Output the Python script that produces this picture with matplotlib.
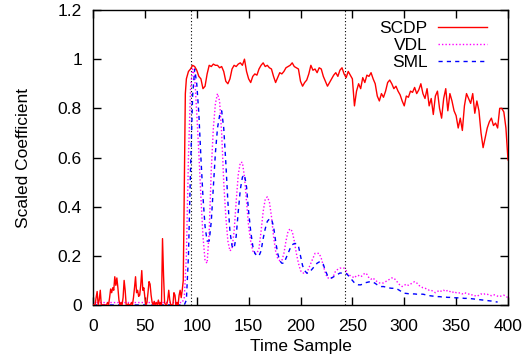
import numpy as np
import matplotlib
matplotlib.use("Agg")
import matplotlib.pyplot as plt

plt.rcParams['font.family'] = ['Liberation Sans', 'DejaVu Sans']

# ---------------- data ----------------
x_ticks = [0, 50, 100, 150, 200, 250, 300, 350, 400]
y_ticks = [0, 0.2, 0.4, 0.6, 0.8, 1, 1.2]
y_tick_labels = ["0", "0.2", "0.4", "0.6", "0.8", "1", "1.2"]
vlines_x = [94, 243]
series_labels = ["SCDP", "VDL", "SML"]

# SCDP: samples 0..89 (step 1)
scdp_early = [0.0, 0.0, 0.0, 0.03, 0.055, 0.0, 0.02, 0.06, 0.0, 0.0,
              0.0, 0.0, 0.0, 0.0, 0.01, 0.0, 0.03, 0.065, 0.05, 0.07,
              0.06, 0.115, 0.08, 0.11, 0.07, 0.02, 0.0, 0.01, 0.0, 0.03,
              0.1, 0.06, 0.0, 0.0, 0.005, 0.0, 0.0, 0.01, 0.0, 0.03,
              0.07, 0.115, 0.05, 0.06, 0.035, 0.04, 0.08, 0.14, 0.06, 0.07,
              0.03, 0.0, 0.01, 0.05, 0.095, 0.085, 0.04, 0.01, 0.0, 0.015,
              0.0, 0.01, 0.0, 0.02, 0.0, 0.01, 0.0, 0.27, 0.12, 0.01,
              0.0, 0.0, 0.02, 0.06, 0.02, 0.0, 0.0, 0.0, 0.05, 0.04,
              0.0, 0.01, 0.0, 0.04, 0.06, 0.03, 0.06, 0.1, 0.5, 0.86]
# SCDP: samples 90..400 (step 2)
scdp_late = [0.92, 0.95, 0.96, 0.975, 0.97, 0.955, 0.93, 0.92, 0.88, 0.89,
             0.94, 0.975, 0.97, 0.98, 0.975, 0.975, 0.965, 0.97, 0.95, 0.91,
             0.9, 0.92, 0.96, 0.975, 0.97, 0.98, 0.985, 0.975, 1.0, 0.95,
             0.92, 0.905, 0.93, 0.94, 0.935, 0.96, 0.975, 0.985, 0.97, 0.975,
             0.965, 0.96, 0.93, 0.905, 0.925, 0.945, 0.94, 0.95, 0.965, 0.97,
             0.975, 0.985, 0.97, 0.965, 0.96, 0.91, 0.89, 0.905, 0.915, 0.94,
             0.975, 0.955, 0.96, 0.945, 0.965, 0.96, 0.93, 0.91, 0.89, 0.905,
             0.92, 0.935, 0.945, 0.93, 0.955, 0.965, 0.94, 0.925, 0.95, 0.935,
             0.92, 0.81, 0.87, 0.9, 0.88, 0.925, 0.905, 0.935, 0.93, 0.945,
             0.92, 0.9, 0.85, 0.83, 0.86, 0.845, 0.87, 0.905, 0.915, 0.9,
             0.88, 0.89, 0.87, 0.855, 0.83, 0.81, 0.85, 0.845, 0.87, 0.865,
             0.885, 0.86, 0.875, 0.9, 0.86, 0.84, 0.88, 0.81, 0.84, 0.775,
             0.85, 0.87, 0.8, 0.76, 0.84, 0.88, 0.79, 0.86, 0.83, 0.79,
             0.77, 0.72, 0.76, 0.71, 0.81, 0.86, 0.84, 0.82, 0.86, 0.78,
             0.83, 0.79, 0.7, 0.64, 0.68, 0.72, 0.745, 0.76, 0.73, 0.74,
             0.72, 0.8, 0.8, 0.785, 0.72, 0.59]

# VDL and SML: samples 0..400 (step 2)
vdl = [0.01] * 44 + [
    0.03, 0.2, 0.6, 0.88, 0.96, 0.93, 0.78, 0.62, 0.44, 0.28,
    0.18, 0.17, 0.3, 0.55, 0.72, 0.82, 0.86, 0.83, 0.7, 0.5,
    0.36, 0.26, 0.22, 0.23, 0.3, 0.42, 0.53, 0.58, 0.58, 0.52,
    0.42, 0.32, 0.26, 0.22, 0.21, 0.21, 0.23, 0.3, 0.38, 0.43,
    0.44, 0.42, 0.36, 0.28, 0.22, 0.19, 0.18, 0.18, 0.21, 0.26,
    0.3, 0.31, 0.3, 0.26, 0.21, 0.17, 0.14, 0.13, 0.13, 0.13,
    0.15, 0.17, 0.19, 0.21, 0.21, 0.21, 0.19, 0.16, 0.13, 0.11,
    0.11, 0.11, 0.12, 0.14, 0.145, 0.15, 0.15, 0.15, 0.14, 0.12,
    0.12, 0.115, 0.11, 0.12, 0.12, 0.115, 0.12, 0.13, 0.125, 0.11,
    0.105, 0.11, 0.1, 0.095, 0.09, 0.088, 0.09, 0.095, 0.1, 0.105,
    0.11, 0.11, 0.1, 0.09, 0.08, 0.075, 0.08, 0.085, 0.08, 0.085,
    0.09, 0.095, 0.09, 0.08, 0.075, 0.07, 0.068, 0.065, 0.06, 0.06,
    0.055, 0.05, 0.055, 0.06, 0.055, 0.06, 0.055, 0.06, 0.055, 0.05,
    0.055, 0.05, 0.048, 0.05, 0.045, 0.05, 0.047, 0.045, 0.04, 0.042,
    0.038, 0.035, 0.04, 0.045, 0.042, 0.046, 0.044, 0.04, 0.038, 0.042,
    0.04, 0.036, 0.034, 0.038, 0.04, 0.035, 0.03]
sml = [0.0] * 45 + [
    0.02, 0.2, 0.55, 0.85, 0.96, 0.9, 0.78, 0.6, 0.44,
    0.32, 0.26, 0.26, 0.34, 0.48, 0.62, 0.72, 0.77, 0.79, 0.72,
    0.58, 0.42, 0.3, 0.24, 0.23, 0.28, 0.38, 0.47, 0.52, 0.53,
    0.48, 0.38, 0.3, 0.24, 0.21, 0.2, 0.2, 0.22, 0.27, 0.31,
    0.34, 0.35, 0.35, 0.32, 0.26, 0.21, 0.18, 0.17, 0.17, 0.19,
    0.21, 0.23, 0.245, 0.25, 0.25, 0.24, 0.2, 0.16, 0.14, 0.13,
    0.13, 0.14, 0.15, 0.16, 0.17, 0.175, 0.175, 0.165, 0.14, 0.12,
    0.11, 0.11, 0.115, 0.12, 0.125, 0.13, 0.13, 0.13, 0.128, 0.12,
    0.11, 0.1, 0.09, 0.085, 0.082, 0.082, 0.085, 0.09, 0.092, 0.094,
    0.095, 0.093, 0.088, 0.082, 0.078, 0.075, 0.075, 0.073, 0.07, 0.069,
    0.068, 0.068, 0.067, 0.063, 0.058, 0.052, 0.048, 0.047, 0.046, 0.046,
    0.045, 0.045, 0.044, 0.044, 0.044, 0.044, 0.042, 0.04, 0.038, 0.037,
    0.036, 0.035, 0.034, 0.034, 0.033, 0.033, 0.032, 0.031, 0.031, 0.030,
    0.030, 0.029, 0.029, 0.028, 0.028, 0.027, 0.027, 0.026, 0.026, 0.025,
    0.024, 0.023, 0.022, 0.021, 0.02, 0.019, 0.018, 0.017, 0.016, 0.014,
    0.013, 0.012]

x_scdp = np.concatenate([np.arange(0, 90), np.arange(90, 401, 2)])
y_scdp = np.array(scdp_early + scdp_late)
x_vdl = np.arange(0, 401, 2)[:len(vdl)]
x_sml = np.arange(0, 401, 2)[:len(sml)]

# ---------------- plot ----------------
FS = 12.5
fig = plt.figure(figsize=(5.3, 3.6), dpi=100)
ax = fig.add_axes([93 / 530, 55 / 360, 415 / 530, 295 / 360])

for xv in vlines_x:
    ax.axvline(xv, color='black', lw=0.8, ls=(0, (1, 2)), zorder=1)

ax.plot(x_scdp, y_scdp, color='#ff0000', lw=1.0, label=series_labels[0], zorder=3)
ax.plot(x_vdl, vdl, color='#ff00ff', lw=1.0, ls=(0, (1, 1.5)), label=series_labels[1], zorder=2)
ax.plot(x_sml, sml, color='#0000ff', lw=1.0, ls=(0, (3, 3)), label=series_labels[2], zorder=2)

ax.set_xlim(0, 400)
ax.set_ylim(0, 1.2)
ax.set_xticks(x_ticks)
ax.set_yticks(y_ticks)
ax.set_yticklabels(y_tick_labels)
ax.tick_params(direction='in', length=6, width=1, top=True, right=True,
               labelsize=FS)
ax.tick_params(axis='x', pad=10)
ax.tick_params(axis='y', pad=8)
for s in ax.spines.values():
    s.set_linewidth(1.0)

ax.set_xlabel("Time Sample", fontsize=FS, va='top')
ax.set_ylabel("Scaled Coefficient", fontsize=FS)
ax.xaxis.set_label_coords(0.5, (305 - 339) / 295)
ax.yaxis.set_label_coords((31 - 93) / 415, 0.5)

ax.legend(loc='upper right', bbox_to_anchor=(0.949, 0.963), frameon=False,
          markerfirst=False, fontsize=FS, handlelength=2.8, handletextpad=0.6,
          labelspacing=0.1, borderaxespad=0.0, borderpad=0.0)

fig.savefig("out.png", dpi=100)
